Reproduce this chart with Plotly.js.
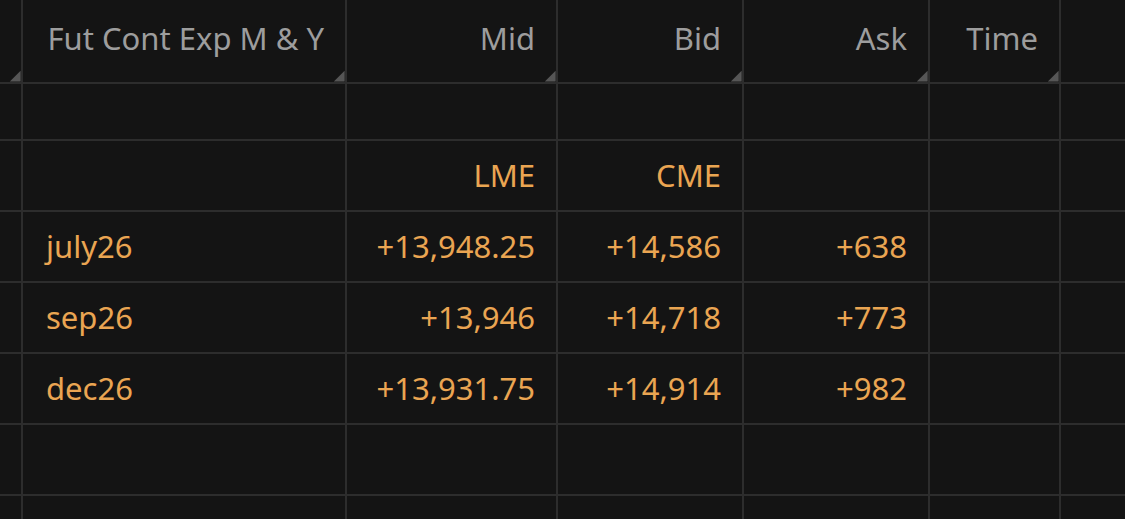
<!DOCTYPE html>
<html>
<head>
<meta charset="utf-8">
<script src="https://cdn.plot.ly/plotly-3.0.1.min.js"></script>
<style>
html,body{margin:0;padding:0;background:#141414;overflow:hidden;}
#chart{width:1125px;height:519px;}
</style>
</head>
<body>
<div id="chart"></div>
<script>
// ---- data ----
var headers   = ['', 'Fut Cont Exp M & Y', 'Mid', 'Bid', 'Ask', 'Time', ''];
var sources   = ['', '', 'LME', 'CME', '', '', ''];
var contracts = ['july26', 'sep26', 'dec26'];
var mid       = [13948.25, 13946, 13931.75];
var bid       = [14586, 14718, 14914];
var ask       = [638, 773, 982];
var times     = ['', '', ''];

// ---- layout geometry ----
var colWidths  = [22, 324, 211, 186, 186, 131, 65];
var rowHeights = [83, 57, 71, 71, 71, 71, 71, 24];
var W = 1125, H = 519, PAD = 22;

function cum(a){var o=[0];for(var i=0;i<a.length;i++)o.push(o[i]+a[i]);return o;}
var cx = cum(colWidths), cy = cum(rowHeights);
function fmt(v){
  return '+' + v.toLocaleString('en-US',{minimumFractionDigits:0, maximumFractionDigits:2});
}
var rowMid = function(r){return (cy[r]+cy[r+1])/2 + 4;};

var GRAY = '#9d9d9d', ORANGE = '#eaa552';
var FONT = 'Noto Sans, Open Sans, sans-serif';
var FS = 31;

var traces = [];

// header (right aligned)
var hx=[],hy=[],ht=[];
for (var c=1;c<headers.length-1;c++){
  hx.push(cx[c+1]-PAD); hy.push(rowMid(0)-3); ht.push(headers[c]);
}
traces.push({type:'scatter',mode:'text',x:hx,y:hy,text:ht,textposition:'middle left',
  textfont:{family:FONT,size:FS,color:GRAY},marker:{size:0},hoverinfo:'skip',showlegend:false,cliponaxis:false});

// header corner triangles
var tx=[],ty=[];
for (var c=0;c<headers.length-1;c++){ tx.push(cx[c+1]-5); ty.push(cy[1]-5); }
traces.push({type:'scatter',mode:'markers',x:tx,y:ty,
  marker:{symbol:'triangle-se',size:12,color:'#565656',line:{width:0}},hoverinfo:'skip',showlegend:false});

// source row
var sx=[],sy=[],st=[];
for (var c=0;c<sources.length;c++){ if(sources[c]){ sx.push(cx[c+1]-PAD); sy.push(rowMid(2)); st.push(sources[c]); } }
traces.push({type:'scatter',mode:'text',x:sx,y:sy,text:st,textposition:'middle left',
  textfont:{family:FONT,size:FS,color:ORANGE},marker:{size:0},hoverinfo:'skip',showlegend:false});

// contract names (left aligned)
var nx=[],ny=[];
for (var r=0;r<contracts.length;r++){ nx.push(cx[1]+24); ny.push(rowMid(3+r)); }
traces.push({type:'scatter',mode:'text',x:nx,y:ny,text:contracts,textposition:'middle right',
  textfont:{family:FONT,size:FS,color:ORANGE},marker:{size:0},hoverinfo:'skip',showlegend:false});

// numeric columns (right aligned)
var cols = [mid.map(fmt), bid.map(fmt), ask.map(fmt), times];
for (var k=0;k<cols.length;k++){
  var xx=[],yy=[];
  for (var r=0;r<contracts.length;r++){ xx.push(cx[k+3]-PAD); yy.push(rowMid(3+r)); }
  traces.push({type:'scatter',mode:'text',x:xx,y:yy,text:cols[k],textposition:'middle left',
    textfont:{family:FONT,size:FS,color:ORANGE},marker:{size:0},hoverinfo:'skip',showlegend:false});
}

var layout = {
  width:W, height:H,
  margin:{l:0,r:0,t:0,b:0},
  paper_bgcolor:'#141414', plot_bgcolor:'#141414',
  xaxis:{range:[0,W],tickvals:cx.slice(1,cx.length-1),showticklabels:false,showgrid:true,
    gridcolor:'#2d2d2d',gridwidth:2,zeroline:false,showline:false,fixedrange:true},
  yaxis:{range:[H,0],tickvals:cy.slice(1,cy.length-1),showticklabels:false,showgrid:true,
    gridcolor:'#2d2d2d',gridwidth:2,zeroline:false,showline:false,fixedrange:true},
  showlegend:false
};
Plotly.newPlot('chart', traces, layout, {displayModeBar:false, staticPlot:true});
</script>
</body>
</html>
